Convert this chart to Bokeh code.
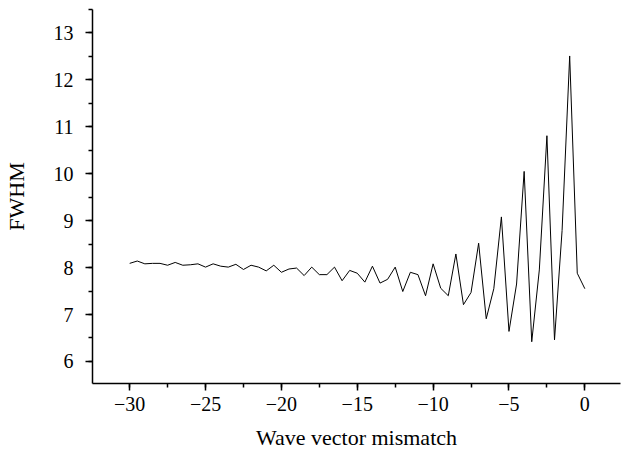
from bokeh.plotting import figure
from bokeh.models import Range1d, FixedTicker, ColumnDataSource
from bokeh.embed import file_html
from bokeh.resources import INLINE
import numpy as np

# ---- data ----
mismatch = [-30.0, -29.5, -29.0, -28.5, -28.0, -27.5, -27.0, -26.5, -26.0, -25.5,
            -25.0, -24.5, -24.0, -23.5, -23.0, -22.5, -22.0, -21.5, -21.0, -20.5,
            -20.0, -19.5, -19.0, -18.5, -18.0, -17.5, -17.0, -16.5, -16.0, -15.5,
            -15.0, -14.5, -14.0, -13.5, -13.0, -12.5, -12.0, -11.5, -11.0, -10.5,
            -10.0, -9.5, -9.0, -8.5, -8.0, -7.5, -7.0, -6.5, -6.0, -5.5,
            -5.0, -4.5, -4.0, -3.5, -3.0, -2.5, -2.0, -1.5, -1.0, -0.5, 0.0]
fwhm = [8.09, 8.14, 8.08, 8.09, 8.09, 8.05, 8.11, 8.05, 8.06, 8.08,
        8.01, 8.08, 8.03, 8.01, 8.07, 7.96, 8.05, 8.01, 7.93, 8.05,
        7.90, 7.97, 7.99, 7.83, 8.01, 7.85, 7.85, 8.01, 7.72, 7.94,
        7.88, 7.69, 8.03, 7.67, 7.75, 8.01, 7.49, 7.90, 7.85, 7.40,
        8.08, 7.56, 7.40, 8.29, 7.21, 7.47, 8.52, 6.91, 7.55, 9.08,
        6.64, 7.65, 10.05, 6.42, 7.95, 10.81, 6.46, 8.79, 12.51, 7.88, 7.55]

x_ticks = [-30, -25, -20, -15, -10, -5, 0]
x_tick_labels = ["\u221230", "\u221225", "\u221220", "\u221215", "\u221210", "\u22125", "0"]
y_ticks = [6, 7, 8, 9, 10, 11, 12, 13]
y_tick_labels = ["6", "7", "8", "9", "10", "11", "12", "13"]

FONT = "Liberation Serif"

p = figure(width=621, height=452, output_backend="svg", toolbar_location=None,
           x_range=Range1d(-32.45, 2.35), y_range=Range1d(5.53, 13.5),
           min_border_left=91, min_border_top=9, min_border_right=1, min_border_bottom=69)
p.outline_line_color = None
p.xgrid.visible = False
p.ygrid.visible = False
p.background_fill_color = "white"
p.border_fill_color = "white"

src = ColumnDataSource(dict(x=mismatch, y=fwhm))
p.line("x", "y", source=src, line_color="black", line_width=1)

p.xaxis.ticker = FixedTicker(ticks=x_ticks, minor_ticks=list(np.arange(-32.5, 2.6, 2.5)))
p.yaxis.ticker = FixedTicker(ticks=y_ticks, minor_ticks=list(np.arange(5.5, 13.6, 0.5)))
p.xaxis.major_label_overrides = {t: l for t, l in zip(x_ticks, x_tick_labels)}
p.yaxis.major_label_overrides = {t: l for t, l in zip(y_ticks, y_tick_labels)}

for ax in (p.xaxis, p.yaxis):
    ax.axis_line_color = "black"
    ax.axis_line_width = 1.5
    ax.major_tick_line_color = "black"
    ax.major_tick_line_width = 1.5
    ax.minor_tick_line_color = "black"
    ax.minor_tick_line_width = 1.5
    ax.major_tick_out = 7
    ax.major_tick_in = 0
    ax.minor_tick_out = 4
    ax.minor_tick_in = 0
    ax.major_label_text_font = FONT
    ax.major_label_text_font_size = "20px"
    ax.major_label_text_color = "black"
    ax.axis_label_text_font = FONT
    ax.axis_label_text_font_size = "22px"
    ax.axis_label_text_font_style = "normal"
    ax.axis_label_text_color = "black"

p.xaxis.axis_label = "Wave vector mismatch"
p.yaxis.axis_label = "FWHM"
p.xaxis.major_label_standoff = 6
p.yaxis.major_label_standoff = 12
p.xaxis.axis_label_standoff = 11
p.yaxis.axis_label_standoff = 22

open("out.html", "w").write(file_html(p, INLINE))
